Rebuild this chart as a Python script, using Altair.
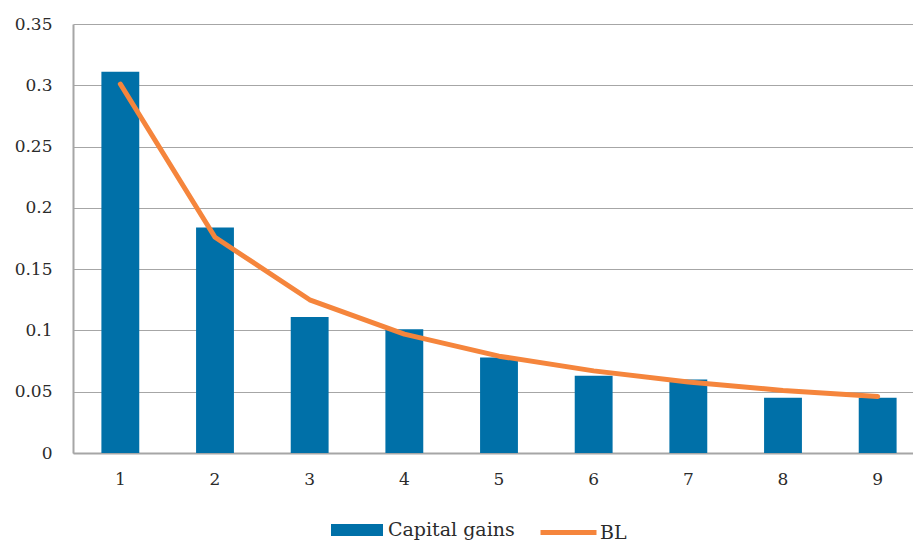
import altair as alt
import pandas as pd

# First-digit frequencies: observed capital gains vs. Benford's law (BL)
digits = [1, 2, 3, 4, 5, 6, 7, 8, 9]
capital_gains = [0.311, 0.184, 0.111, 0.101, 0.078, 0.063, 0.060, 0.045, 0.045]
benford = [0.301, 0.176, 0.125, 0.097, 0.079, 0.067, 0.058, 0.051, 0.046]

BLUE = "#0070a8"
ORANGE = "#f5853c"
FONT = "DejaVu Serif"
TEXT = "#2b2b2b"
GRID = "#a6a6a6"

df = pd.DataFrame({
    "digit": digits,
    "Capital gains": capital_gains,
    "BL": benford,
})

x_enc = alt.X(
    "digit:O",
    title=None,
    scale=alt.Scale(range=[0, 852], paddingInner=0.6, paddingOuter=0.3),
    axis=alt.Axis(labelAngle=0, ticks=False, labelPadding=18, grid=False,
                  domainColor=GRID, domainWidth=2),
)
y_scale = alt.Scale(domain=[0, 0.35], nice=False)
y_axis = alt.Axis(values=[0, 0.05, 0.1, 0.15, 0.2, 0.25, 0.3, 0.35], format="~g",
                  ticks=False, labelPadding=21, grid=True, gridColor=GRID,
                  gridWidth=1.2, domainColor=GRID, domainWidth=2)

bars = alt.Chart(df).transform_calculate(series="'Capital gains'").mark_bar(
    color=BLUE
).encode(
    x=x_enc,
    y=alt.Y("Capital gains:Q", title=None, scale=y_scale, axis=y_axis),
    fill=alt.Fill(
        "series:N",
        scale=alt.Scale(domain=["Capital gains"], range=[BLUE]),
        legend=alt.Legend(
            title=None, orient="none", legendX=258, legendY=480,
            symbolType="M-1,-0.23L1,-0.23L1,0.23L-1,0.23Z", symbolSize=2704,
            symbolStrokeWidth=0, labelOffset=5, padding=0,
        ),
    ),
)

line = alt.Chart(df).transform_calculate(series="'BL'").mark_line(
    color=ORANGE, strokeWidth=5, strokeCap="round", strokeJoin="round"
).encode(
    x=x_enc,
    y=alt.Y("BL:Q", scale=y_scale),
    stroke=alt.Stroke(
        "series:N",
        scale=alt.Scale(domain=["BL"], range=[ORANGE]),
        legend=alt.Legend(
            title=None, orient="none", legendX=465, legendY=478,
            symbolType="stroke", symbolSize=3136, symbolStrokeWidth=5,
            labelOffset=1, padding=0,
        ),
    ),
)

chart = alt.layer(bars, line).resolve_legend(fill="independent", stroke="independent").properties(
    width=840,
    height=429,
    autosize=alt.AutoSizeParams(type="none"),
    padding={"left": 73, "top": 24, "right": 0, "bottom": 89},
).configure_view(
    stroke=None
).configure_axis(
    labelFont=FONT, labelFontSize=17, labelColor=TEXT,
).configure_legend(
    labelFont=FONT, labelFontSize=19, labelColor=TEXT, labelLimit=300,
)

chart.save("out.html", embed_options={"renderer": "svg", "actions": False})
